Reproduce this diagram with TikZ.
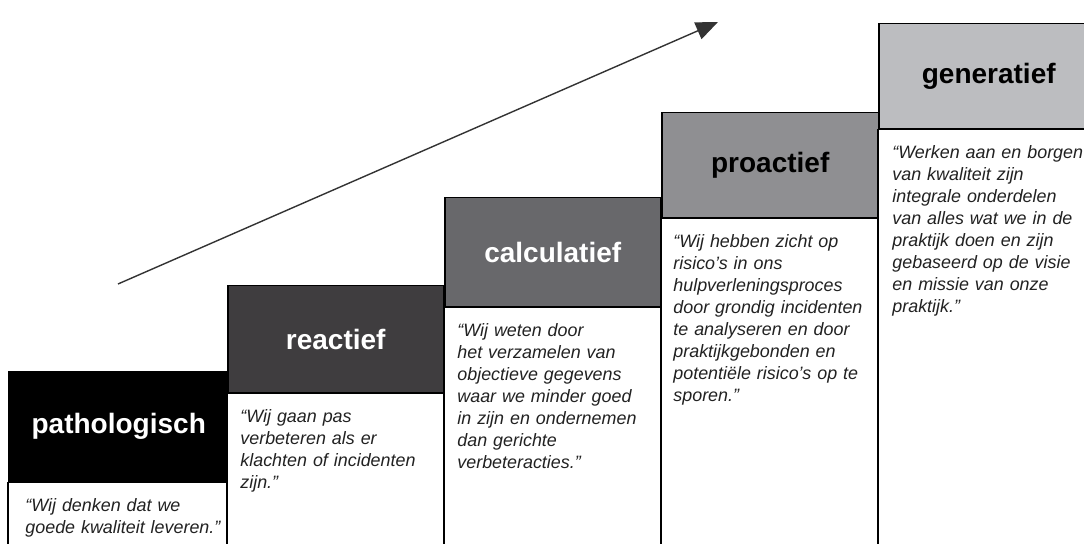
\documentclass[tikz,border=0pt]{standalone}
\usepackage{fontspec}
\setmainfont{Liberation Sans}
\usetikzlibrary{arrows.meta}
\definecolor{c1}{HTML}{000000}
\definecolor{c2}{HTML}{3F3D3F}
\definecolor{c3}{HTML}{68686B}
\definecolor{c4}{HTML}{8F8F92}
\definecolor{c5}{HTML}{BCBDC0}
\definecolor{qtext}{HTML}{222222}
\begin{document}
\begin{tikzpicture}[x=0.5pt,y=-0.5pt,
  hdr/.style={draw=black,line width=0.75pt,anchor=north west,inner sep=0pt,
    font=\fontsize{14}{16}\selectfont\bfseries},
  bodybox/.style={draw=black,line width=0.75pt,fill=white},
  quote/.style={anchor=north west,inner sep=0pt,align=left,text width=120pt,
    font=\fontsize{8.95}{11}\selectfont\itshape,text=qtext},
  arr/.style={draw=black!80,line width=0.7pt,-{Triangle[length=11pt,width=9pt]}}]
\useasboundingbox (0,0) rectangle (1084,544);
\clip (0,0) rectangle (1084,544);
\fill[white] (0,0) rectangle (1084,544);
\coordinate (bot) at (0,570);

% box 1
\node[hdr,fill=c1,text=white,minimum width=110pt,minimum height=55pt] (h1) at (8,371) {pathologisch};
\draw[bodybox] (h1.south west) rectangle (h1.south east |- bot);
\node[quote] (q1) at ([shift={(17,16)}]h1.south west) {“Wij denken dat we\\goede kwaliteit leveren.”};

% box 2
\node[hdr,fill=c2,text=white,minimum width=108pt,minimum height=53.5pt] (h2) at (227,285) {reactief};
\draw[bodybox] (h2.south west) rectangle (h2.south east |- bot);
\node[quote] (q2) at ([shift={(13,16)}]h2.south west) {“Wij gaan pas\\verbeteren als er\\klachten of incidenten\\zijn.”};

% box 3
\node[hdr,fill=c3,text=white,minimum width=108pt,minimum height=54.5pt] (h3) at (444,197) {calculatief};
\draw[bodybox] (h3.south west) rectangle (h3.south east |- bot);
\node[quote] (q3) at ([shift={(13,16)}]h3.south west) {“Wij weten door\\het verzamelen van\\objectieve gegevens\\waar we minder goed\\in zijn en ondernemen\\dan gerichte\\verbeteracties.”};

% box 4
\node[hdr,fill=c4,text=black,minimum width=108.5pt,minimum height=52.5pt] (h4) at (661,112) {proactief};
\draw[bodybox] (h4.south west) rectangle (h4.south east |- bot);
\node[quote] (q4) at ([shift={(12,16)}]h4.south west) {“Wij hebben zicht op\\risico’s in ons\\hulpverleningsproces\\door grondig incidenten\\te analyseren en door\\praktijkgebonden en\\potentiële risico’s op te\\sporen.”};

% box 5
\node[hdr,fill=c5,text=black,minimum width=110pt,minimum height=52.5pt] (h5) at (878,23) {generatief};
\draw[bodybox] (h5.south west) rectangle (h5.south east |- bot);
\node[quote] (q5) at ([shift={(14,16)}]h5.south west) {“Werken aan en borgen\\van kwaliteit zijn\\integrale onderdelen\\van alles wat we in de\\praktijk doen en zijn\\gebaseerd op de visie\\en missie van onze\\praktijk.”};

% arrow
\coordinate (as) at (118,284);
\coordinate (ae) at (718,22);
\draw[arr] (as) -- (ae);
\end{tikzpicture}
\end{document}
